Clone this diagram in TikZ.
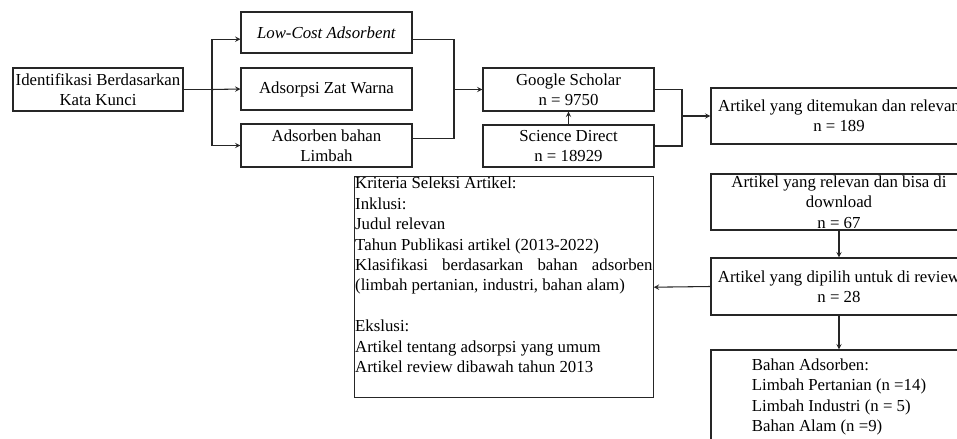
\documentclass[tikz,border=0pt]{standalone}
\usepackage{fontspec}
\setmainfont{Liberation Serif}
\begin{document}
\begin{tikzpicture}[x=0.75pt,y=-0.75pt,
box/.style={draw=black!85,line width=0.8pt,inner sep=1pt,align=center,minimum width=128.25pt,font=\fontsize{12.6}{15.3}\selectfont},
wbox/.style={box,minimum width=192pt},
arr/.style={-stealth,line width=0.8pt,draw=black!85}]
\useasboundingbox(0,0)rectangle(957,439);
\clip(0,0)rectangle(957,439);
\node[box,minimum width=127.5pt,minimum height=32.25pt](idk)at(98,89.5){Identifikasi Berdasarkan\\Kata Kunci};
\node[box,minimum height=30.75pt](lc)at(326.5,32.5){\textit{Low-Cost Adsorbent}};
\node[box,minimum height=31.5pt](azw)at(326.5,89){Adsorpsi Zat Warna};
\node[box,minimum height=32.25pt](ab)at(326.5,145.5){Adsorben bahan\\Limbah};
\node[box,minimum height=32.25pt](gs)at(568.5,89.5){Google Scholar\\n = 9750};
\node[box,minimum height=31.5pt](sd)at(568.5,146){Science Direct\\n = 18929};
\node[wbox,minimum height=42pt](art)at(839,116){Artikel yang ditemukan dan relevan\\n = 189};
\node[wbox,minimum height=42pt](dl)at(839,202){};
\node[font=\fontsize{12.6}{15.3}\selectfont,align=center,inner sep=0pt](dltext)at(dl.center){Artikel yang relevan dan bisa di\\download\\n = 67};
\node[wbox,minimum height=42.75pt](dp)at(839,286.5){Artikel yang dipilih untuk di review\\n = 28};
\node[wbox,align=left,minimum height=70.5pt](ba)at(839,397){Bahan Adsorben:\\Limbah Pertanian (n =14)\\Limbah Industri (n = 5)\\Bahan Alam (n =9)};
\node[box,anchor=north west,inner sep=0.5pt](kr)at(354,176){\parbox[t][165pt][t]{223pt}{Kriteria Seleksi Artikel:\\
Inklusi:\\
Judul relevan\\
Tahun Publikasi artikel (2013-2022)\\
Klasifikasi berdasarkan bahan adsorben\linebreak (limbah pertanian, industri, bahan alam)\\[15.3pt]
Ekslusi:\\
Artikel tentang adsorpsi yang umum\\
Artikel review dibawah tahun 2013}};
\coordinate(br1)at(212,89.5);
\coordinate(mg1)at(454,89.5);
\coordinate(mg2)at(682,116);
\draw[line width=0.8pt,black!85](idk.east)--(br1);
\draw[arr](br1)|-([yshift=-5pt]lc.west);
\draw[arr](br1)--(azw.west);
\draw[arr](br1)|-(ab.west);
\draw[line width=0.8pt,black!85]([yshift=-5pt]lc.east)-|(mg1)|-([yshift=5.5pt]ab.east);
\draw[arr](mg1)--(gs.west);
\draw[arr](sd.north)--(gs.south);
\draw[line width=0.8pt,black!85](gs.east)-|(mg2)|-(sd.east);
\draw[arr](mg2)--(art.west);
\draw[arr](dl.south)--(dp.north);
\draw[arr](dp.west)--(kr.east);
\draw[arr](dp.south)--(ba.north);
\end{tikzpicture}
\end{document}
